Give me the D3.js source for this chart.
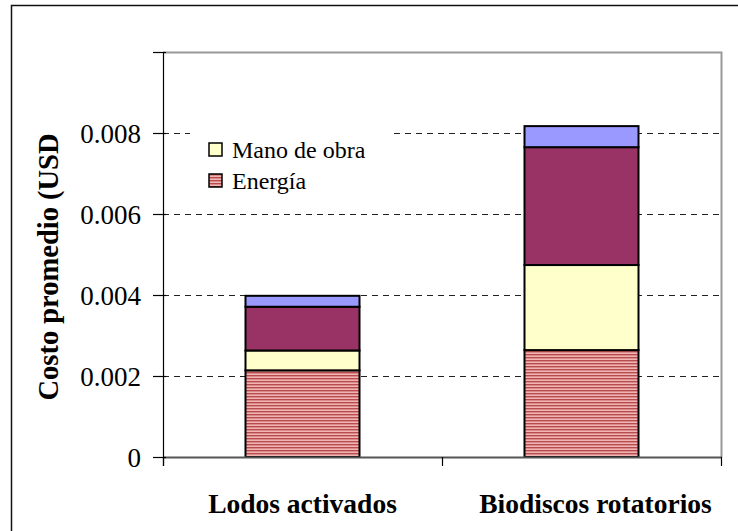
<!DOCTYPE html>
<html><head><meta charset="utf-8">
<script src="https://cdn.jsdelivr.net/npm/d3@7"></script>
<style>body{margin:0;background:#fff}svg{display:block}
svg text{font-family:'Liberation Serif','Times New Roman',serif;}</style>
</head><body>
<script>
const categories = ["Lodos activados", "Biodiscos rotatorios"];
const seriesNames = ["Energía", "Mano de obra", "Otros 1", "Otros 2"];
const energia = [0.00214, 0.00264];
const manoObra = [0.00049, 0.00210];
const otros1 = [0.00108, 0.00291];
const otros2 = [0.00027, 0.00052];
const yTicks = [0, 0.002, 0.004, 0.006, 0.008, 0.010];
const yTickLabels = ["0", "0.002", "0.004", "0.006", "0.008", ""];
const legendNames = ["Mano de obra", "Energía"];
const colors = {"Energía": "url(#stripes)", "Mano de obra": "#FFFFCC", "Otros 1": "#993366", "Otros 2": "#9999FF"};

const W = 738, H = 531;
const svg = d3.select("body").append("svg").attr("width", W).attr("height", H);
const defs = svg.append("defs");
const pat = defs.append("pattern").attr("id", "stripes").attr("patternUnits", "userSpaceOnUse")
  .attr("width", 6).attr("height", 3);
pat.append("rect").attr("width", 6).attr("height", 3).attr("fill", "#f0b4b4");
pat.append("rect").attr("y", 0).attr("width", 6).attr("height", 1.4).attr("fill", "#b84c4c");

// outer frame
svg.append("path").attr("d", `M11.5,${H+2} V5.5 H${W+2}`).attr("fill", "none").attr("stroke", "#111").attr("stroke-width", 1.5);

const pl = 163, pr = 721, pt = 52, pb = 457;
const x = d3.scaleBand().domain(categories).range([pl, pr]).paddingInner(0).paddingOuter(0);
const y = d3.scaleLinear().domain([0, 0.01]).range([pb, pt]);
const barW = 114;

// gridlines
svg.append("g").selectAll("line").data(yTicks.filter(v => v > 0 && v < 0.01)).join("line")
  .attr("x1", pl).attr("x2", pr).attr("y1", d => y(d) + 0.5).attr("y2", d => y(d) + 0.5)
  .attr("stroke", "#222").attr("stroke-width", 1).attr("stroke-dasharray", "6,5");

// plot area border (top/right gray)
svg.append("path").attr("d", `M${pl},${pt+0.5} H${pr+0.5} V${pb}`).attr("fill", "none").attr("stroke", "#999").attr("stroke-width", 2);

// legend box (white, hides gridline)
const lg = svg.append("g");
lg.append("rect").attr("x", 190).attr("y", 128).attr("width", 203).attr("height", 70).attr("fill", "#fff");
legendNames.forEach((n, i) => {
  const yy = 143 + i * 31;
  lg.append("rect").attr("x", 209).attr("y", yy).attr("width", 13).attr("height", 13)
    .attr("fill", colors[n]).attr("stroke", "#000").attr("stroke-width", 1.5);
  lg.append("text").attr("x", 232).attr("y", yy + 15).text(n)
    .style("font-size", "24px").attr("fill", "#000");
});

// stacked bars
const rows = categories.map((c, i) => ({cat: c, "Energía": energia[i], "Mano de obra": manoObra[i], "Otros 1": otros1[i], "Otros 2": otros2[i]}));
const stack = d3.stack().keys(seriesNames)(rows);
svg.append("g").selectAll("g").data(stack).join("g")
  .attr("fill", d => colors[d.key])
  .selectAll("rect").data(d => d).join("rect")
  .attr("x", d => x(d.data.cat) + (x.bandwidth() - barW) / 2)
  .attr("width", barW)
  .attr("y", d => y(d[1]))
  .attr("height", d => y(d[0]) - y(d[1]))
  .attr("stroke", "#000").attr("stroke-width", 2);

// x axis
svg.append("line").attr("x1", pl).attr("x2", pr + 1).attr("y1", pb + 0.5).attr("y2", pb + 0.5).attr("stroke", "#555").attr("stroke-width", 2);
const xTickPos = [pl, ...categories.slice(1).map(c => x(c)), pr];
svg.append("g").selectAll("line").data(xTickPos).join("line")
  .attr("x1", d => d + 0.5).attr("x2", d => d + 0.5).attr("y1", pb).attr("y2", pb + 9)
  .attr("stroke", "#000").attr("stroke-width", 1.2);

// y axis
const yAxis = d3.axisLeft(y).tickValues(yTicks).tickFormat((d, i) => yTickLabels[i]).tickSize(10).tickPadding(12);
const ga = svg.append("g").attr("transform", `translate(${pl},0)`).call(yAxis);
ga.attr("font-family", null).attr("font-size", null);
ga.select(".domain").attr("stroke", "#000").attr("stroke-width", 1.2).attr("d", `M0.5,${pt} V${pb + 9}`);
ga.selectAll(".tick line").attr("stroke", "#000").attr("stroke-width", 1.2).attr("x2", -10).attr("x1", 3);
ga.selectAll(".tick text").style("font-size", "27px").attr("fill", "#000").attr("dy", "0.34em");

// category labels (Excel placed the second label slightly right of its bar)
const labelShift = [0, 14];
svg.append("g").selectAll("text").data(categories).join("text")
  .attr("x", (d, i) => x(d) + x.bandwidth() / 2 + labelShift[i]).attr("y", 513).attr("text-anchor", "middle")
  .style("font-weight", "bold").style("font-size", "27.5px")
  .text(d => d);

// y title
svg.append("text").attr("transform", "translate(58,267) rotate(-90)").attr("text-anchor", "middle")
  .style("font-weight", "bold").style("font-size", "28.5px")
  .text("Costo promedio (USD");
</script>
</body></html>
